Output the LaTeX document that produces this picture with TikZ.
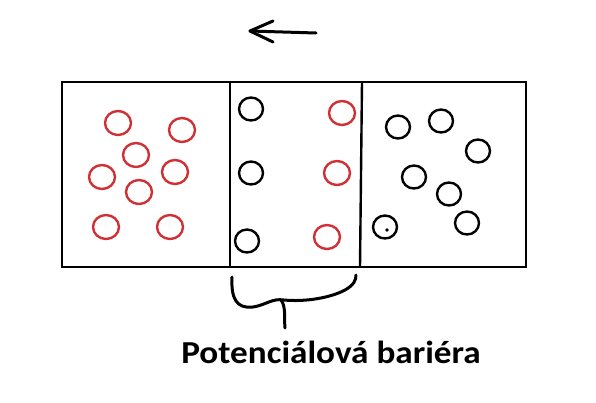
\documentclass[tikz,border=0pt]{standalone}
\usepackage{fontspec}
\setmainfont{Carlito}
\usetikzlibrary{shapes.geometric}
\definecolor{pred}{RGB}{208,48,52}
\tikzset{
  part/.style={ellipse, draw, line width=2.4pt, minimum width=26pt, minimum height=24pt, inner sep=0pt},
  redp/.style={part, draw=pred},
  blkp/.style={part, draw=black, minimum width=24pt, minimum height=23pt},
  wall/.style={line width=2.4pt},
  pen/.style={line width=3pt, line cap=round, line join=round}
}
\begin{document}
\begin{tikzpicture}[x=1pt,y=-1pt]
\useasboundingbox (0,0) rectangle (596,402);
% box and walls
\draw[wall] (62,82) rectangle (526,267);
\draw[wall] (230,82) -- (230,267);
\draw[wall] (362,82) -- (360,267);
% left red particles
\foreach \n/\x/\y in {a/118/123, b/182/130, c/136/155, d/102/177, e/175/172, f/139/192, g/106/227, h/170/227}
  \node[redp] (L\n) at (\x,\y) {};
% barrier particles
\node[blkp] (M1) at (251,109) {};
\node[blkp] (M2) at (251,173) {};
\node[blkp] (M3) at (247,241) {};
\node[redp] (M4) at (342,113) {};
\node[redp] (M5) at (337,173) {};
\node[redp] (M6) at (327,237) {};
% right black particles
\foreach \n/\x/\y in {a/398/127, b/441/121, c/478/151, d/414/177, e/449/194, f/385/227, g/467/223}
  \node[blkp] (R\n) at (\x,\y) {};
\fill (387,230) circle (1.8pt);
% arrow
\coordinate (At) at (316,33);
\coordinate (Ah) at (250,31);
\draw[pen] (At) -- (Ah);
\draw[pen] (273,21) -- (Ah) -- (273,42);
% brace
\draw[pen] (232,277) .. controls (231,298) and (236,309) .. (253,307)
  .. controls (266,305) and (272,298) .. (284,300)
  .. controls (305,302) and (330,298) .. (345,290)
  .. controls (354,285) and (356,280) .. (356,275);
\draw[pen] (281,300) .. controls (286,306) and (284,318) .. (285,328);
% label
\node[font=\bfseries\fontsize{32}{38}\selectfont, anchor=base, inner sep=0pt] (lbl) at (331,363) {\scalebox{1.1}[1]{Potenciálová bariéra}};
\end{tikzpicture}
\end{document}
